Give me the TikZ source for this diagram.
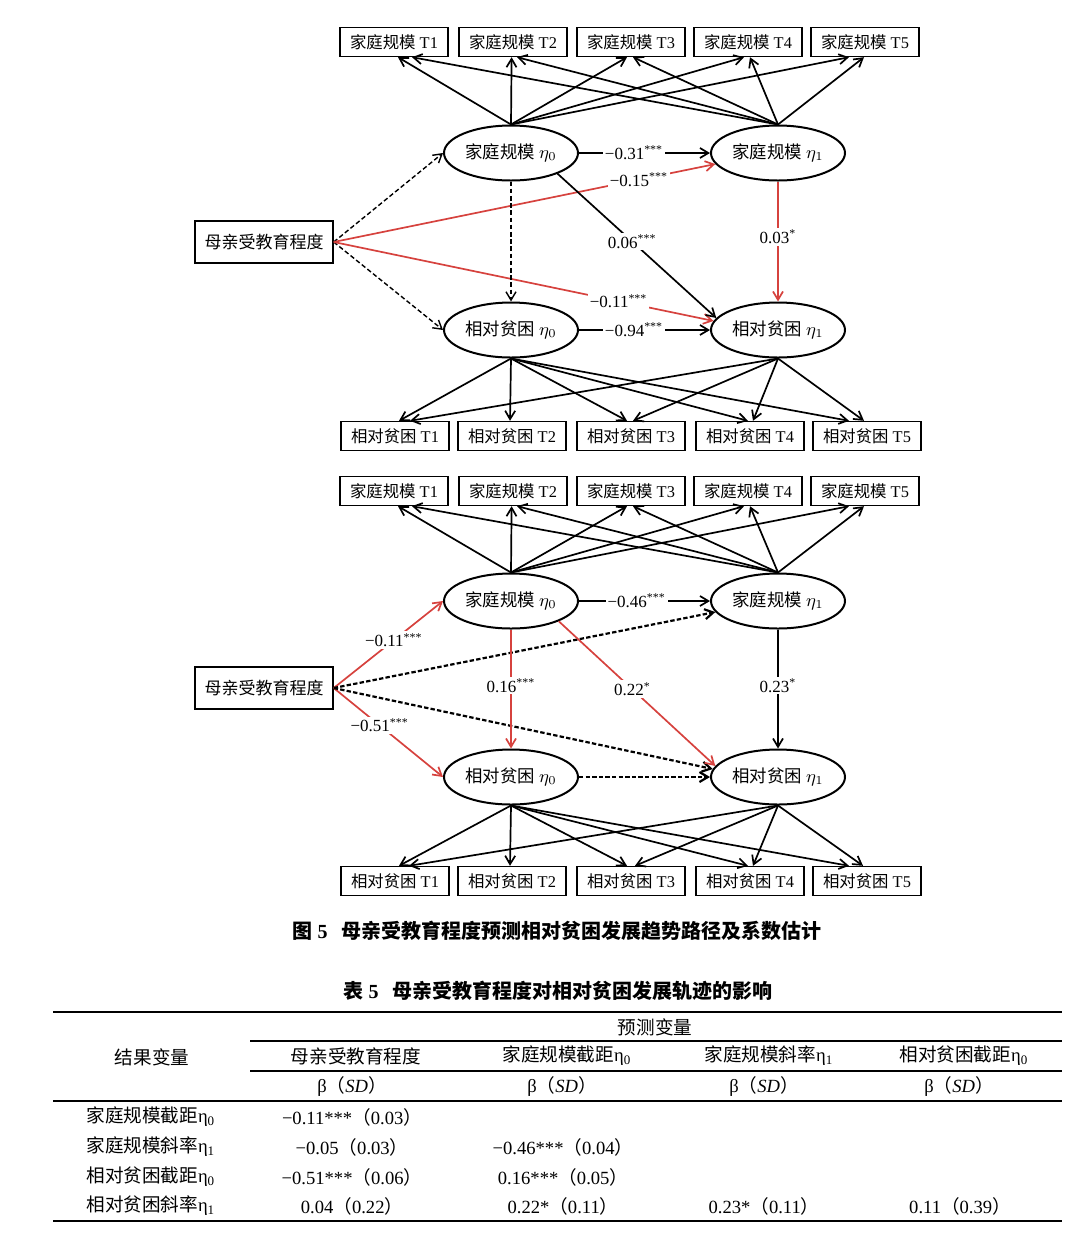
\documentclass[tikz,border=0pt]{standalone}
\usepackage{fontspec}
\setmainfont{Liberation Serif}
\newfontfamily\cjk{Noto Sans CJK SC}
\usepackage{tikz}
\usetikzlibrary{shapes.geometric,arrows.meta}
\definecolor{pathred}{RGB}{214,66,62}
\newcommand{\zh}[1]{{\cjk #1}}
\tikzset{box/.style={rectangle,draw,line width=0.7pt,minimum width=54pt,minimum height=14.5pt,inner sep=1pt,font=\fontsize{8.2}{9}\selectfont},
  mbox/.style={box,minimum width=69pt,minimum height=21pt,font=\fontsize{8.5}{10}\selectfont},
  ell/.style={ellipse,draw,line width=1pt,minimum width=67pt,minimum height=27.5pt,inner sep=0pt,font=\fontsize{8.7}{10}\selectfont},
  lbl/.style={fill=white,text=black,inner sep=1pt,font=\fontsize{8.5}{10}\selectfont},
  ar/.style={->,line width=0.85pt},
  ard/.style={ar,line width=0.7pt,dash pattern=on 2.3pt off 1.3pt},
  ardd/.style={ar,line width=1.1pt,dash pattern=on 2.2pt off 1.1pt},
  arr/.style={ar,pathred},
  cell/.style={inner sep=0pt,font=\fontsize{9.3}{10}\selectfont},
  ttl/.style={inner sep=0pt,font=\fontsize{10}{12}\selectfont\bfseries}}

\begin{document}
\begin{tikzpicture}[>={Straight Barb[length=4.2pt,width=5pt]},x=0.5pt,y=-0.5pt]
    \useasboundingbox (0,0) rectangle (1080,1238);

    % upper model
    \node[box] (a1) at (394,42) {\zh{家庭规模} T1};
    \node[box] (a2) at (513,42) {\zh{家庭规模} T2};
    \node[box] (a3) at (631,42) {\zh{家庭规模} T3};
    \node[box] (a4) at (748,42) {\zh{家庭规模} T4};
    \node[box] (a5) at (865,42) {\zh{家庭规模} T5};
    \node[ell] (f0) at (511,153) {\zh{家庭规模} $\eta_0$};
    \node[ell] (f1) at (778,153) {\zh{家庭规模} $\eta_1$};
    \node[mbox] (m) at (264,242) {\zh{母亲受教育程度}};
    \node[ell] (r0) at (511,330) {\zh{相对贫困} $\eta_0$};
    \node[ell] (r1) at (778,330) {\zh{相对贫困} $\eta_1$};
    \node[box] (b1) at (395,436) {\zh{相对贫困} T1};
    \node[box] (b2) at (512,436) {\zh{相对贫困} T2};
    \node[box] (b3) at (631,436) {\zh{相对贫困} T3};
    \node[box] (b4) at (750,436) {\zh{相对贫困} T4};
    \node[box] (b5) at (867,436) {\zh{相对贫困} T5};

    \draw [ar] (f0.north) to ([xshift=2pt]a1.south);
    \draw [ar] (f0.north) to ([xshift=-0.7pt]a2.south);
    \draw [ar] (f0.north) to ([xshift=-2pt]a3.south);
    \draw [ar] (f0.north) to ([xshift=-2pt]a4.south);
    \draw [ar] (f0.north) to ([xshift=-8pt]a5.south);
    \draw [ar] (f1.north) to ([xshift=9pt]a1.south);
    \draw [ar] (f1.north) to ([xshift=2pt]a2.south);
    \draw [ar] (f1.north) to ([xshift=1pt]a3.south);
    \draw [ar] (f1.north) to ([xshift=1pt]a4.south);
    \draw [ar] (f1.north) to ([xshift=-0.5pt]a5.south);

    \draw [ar] (f0.east) to node[lbl,pos=0.42]{−0.31\textsuperscript{***}} (f1.west);
    \draw [ard] (m.east) to (f0.west);
    \draw [arr] (m.east) to node[lbl,pos=0.8]{−0.15\textsuperscript{***}} (f1.190);
    \draw [ard] (m.east) to (r0.west);
    \draw [arr] (m.east) to node[lbl,pos=0.75]{−0.11\textsuperscript{***}} (r1.172);
    \draw [ard] (f0.south) to (r0.north);
    \draw [ar] (f0.-24) to node[lbl,pos=0.47]{0.06\textsuperscript{***}} (r1.169);
    \draw [arr] (f1.south) to node[lbl,pos=0.46]{0.03\textsuperscript{*}} (r1.north);
    \draw [ar] (r0.east) to node[lbl,pos=0.42]{−0.94\textsuperscript{***}} (r1.west);

    \draw [ar] (r0.south) to ([xshift=2pt]b1.north);
    \draw [ar] (r0.south) to ([xshift=-1pt]b2.north);
    \draw [ar] (r0.south) to ([xshift=-2pt]b3.north);
    \draw [ar] (r0.south) to ([xshift=-1pt]b4.north);
    \draw [ar] (r0.south) to ([xshift=-9pt]b5.north);
    \draw [ar] (r1.south) to ([xshift=7.5pt]b1.north);
    \draw [ar] (r1.south) to ([xshift=1pt]b3.north);
    \draw [ar] (r1.south) to ([xshift=1.5pt]b4.north);
    \draw [ar] (r1.south) to ([xshift=-1.5pt]b5.north);

    % lower model
    \node[box] (c1) at (394,491) {\zh{家庭规模} T1};
    \node[box] (c2) at (513,491) {\zh{家庭规模} T2};
    \node[box] (c3) at (631,491) {\zh{家庭规模} T3};
    \node[box] (c4) at (748,491) {\zh{家庭规模} T4};
    \node[box] (c5) at (865,491) {\zh{家庭规模} T5};
    \node[ell] (g0) at (511,601) {\zh{家庭规模} $\eta_0$};
    \node[ell] (g1) at (778,601) {\zh{家庭规模} $\eta_1$};
    \node[mbox] (n) at (264,688) {\zh{母亲受教育程度}};
    \node[ell] (s0) at (511,777) {\zh{相对贫困} $\eta_0$};
    \node[ell] (s1) at (778,777) {\zh{相对贫困} $\eta_1$};
    \node[box] (d1) at (395,881) {\zh{相对贫困} T1};
    \node[box] (d2) at (512,881) {\zh{相对贫困} T2};
    \node[box] (d3) at (631,881) {\zh{相对贫困} T3};
    \node[box] (d4) at (750,881) {\zh{相对贫困} T4};
    \node[box] (d5) at (867,881) {\zh{相对贫困} T5};

    \draw [ar] (g0.north) to ([xshift=2pt]c1.south);
    \draw [ar] (g0.north) to ([xshift=-0.7pt]c2.south);
    \draw [ar] (g0.north) to ([xshift=-2pt]c3.south);
    \draw [ar] (g0.north) to ([xshift=-2pt]c4.south);
    \draw [ar] (g0.north) to ([xshift=-8pt]c5.south);
    \draw [ar] (g1.north) to ([xshift=9pt]c1.south);
    \draw [ar] (g1.north) to ([xshift=2pt]c2.south);
    \draw [ar] (g1.north) to ([xshift=1pt]c3.south);
    \draw [ar] (g1.north) to ([xshift=1pt]c4.south);
    \draw [ar] (g1.north) to ([xshift=-0.5pt]c5.south);

    \draw [ar] (g0.east) to node[lbl,pos=0.44]{−0.46\textsuperscript{***}} (g1.west);
    \draw [arr] (n.east) to node[lbl,pos=0.55]{−0.11\textsuperscript{***}} (g0.west);
    \draw [ardd] (n.east) to (g1.190);
    \draw [arr] (n.east) to node[lbl,pos=0.42]{−0.51\textsuperscript{***}} (s0.west);
    \draw [ardd] (n.east) to (s1.173);
    \draw [arr] (g0.south) to node[lbl,pos=0.47]{0.16\textsuperscript{***}} (s0.north);
    \draw [arr] (g0.-23) to node[lbl,pos=0.47]{0.22\textsuperscript{*}} (s1.170);
    \draw [ar] (g1.south) to node[lbl,pos=0.47]{0.23\textsuperscript{*}} (s1.north);
    \draw [ardd] (s0.east) to (s1.west);

    \draw [ar] (s0.south) to ([xshift=2pt]d1.north);
    \draw [ar] (s0.south) to ([xshift=-1pt]d2.north);
    \draw [ar] (s0.south) to ([xshift=-2pt]d3.north);
    \draw [ar] (s0.south) to ([xshift=-1pt]d4.north);
    \draw [ar] (s0.south) to ([xshift=-9pt]d5.north);
    \draw [ar] (s1.south) to ([xshift=7pt]d1.north);
    \draw [ar] (s1.south) to ([xshift=2pt]d3.north);
    \draw [ar] (s1.south) to ([xshift=1.5pt]d4.north);
    \draw [ar] (s1.south) to ([xshift=-2pt]d5.north);

    % caption and table
    \node[ttl] (cap) at (557,931) {\zh{图} 5\hspace{7pt}\zh{母亲受教育程度预测相对贫困发展趋势路径及系数估计}};
    \node[ttl] (tab) at (558,991) {\zh{表} 5\hspace{7pt}\zh{母亲受教育程度对相对贫困发展轨迹的影响}};

    \draw [line width=1pt] (53,1012) -- (1062,1012);
    \draw [line width=0.6pt] (250,1041) -- (1062,1041);
    \draw [line width=0.6pt] (250,1071) -- (1062,1071);
    \draw [line width=0.6pt] (53,1101) -- (1062,1101);
    \draw [line width=1pt] (53,1221) -- (1062,1221);

    \node[cell] (h0) at (655,1027) {\zh{预测变量}};
    \node[cell] (h1) at (152,1057) {\zh{结果变量}};
    \node[cell] (h2) at (356,1056) {\zh{母亲受教育程度}};
    \node[cell] (h3) at (567,1056) {\zh{家庭规模截距}η\textsubscript{0}};
    \node[cell] (h4) at (769,1056) {\zh{家庭规模斜率}η\textsubscript{1}};
    \node[cell] (h5) at (964,1056) {\zh{相对贫困截距}η\textsubscript{0}};
    \node[cell] (k1) at (352,1087) {β\zh{（}\textit{SD}\zh{）}};
    \node[cell] (k2) at (562,1087) {β\zh{（}\textit{SD}\zh{）}};
    \node[cell] (k3) at (764,1087) {β\zh{（}\textit{SD}\zh{）}};
    \node[cell] (k4) at (959,1087) {β\zh{（}\textit{SD}\zh{）}};

    \node[cell,anchor=west] (l1) at (86,1117) {\zh{家庭规模截距}η\textsubscript{0}};
    \node[cell,anchor=west] (l2) at (86,1147) {\zh{家庭规模斜率}η\textsubscript{1}};
    \node[cell,anchor=west] (l3) at (86,1177) {\zh{相对贫困截距}η\textsubscript{0}};
    \node[cell,anchor=west] (l4) at (86,1206) {\zh{相对贫困斜率}η\textsubscript{1}};

    \node[cell] (v11) at (352,1117) {−0.11***\zh{（}0.03\zh{）}};
    \node[cell] (v21) at (352,1147) {−0.05\zh{（}0.03\zh{）}};
    \node[cell] (v22) at (563,1147) {−0.46***\zh{（}0.04\zh{）}};
    \node[cell] (v31) at (352,1177) {−0.51***\zh{（}0.06\zh{）}};
    \node[cell] (v32) at (563,1177) {0.16***\zh{（}0.05\zh{）}};
    \node[cell] (v41) at (352,1206) {0.04\zh{（}0.22\zh{）}};
    \node[cell] (v42) at (563,1206) {0.22*\zh{（}0.11\zh{）}};
    \node[cell] (v43) at (764,1206) {0.23*\zh{（}0.11\zh{）}};
    \node[cell] (v44) at (960,1206) {0.11\zh{（}0.39\zh{）}};
\end{tikzpicture}
\end{document}
